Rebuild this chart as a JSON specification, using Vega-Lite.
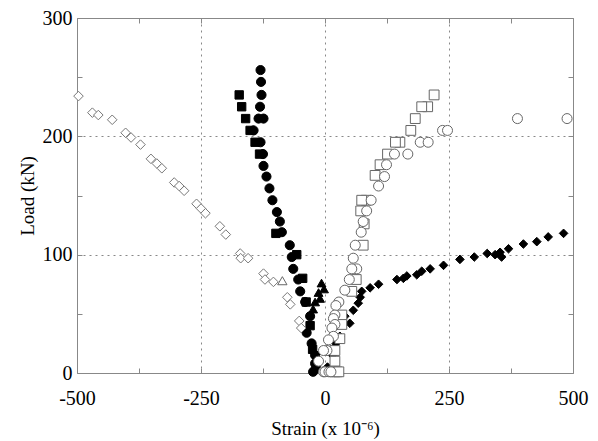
{
  "$schema": "https://vega.github.io/schema/vega-lite/v6.json",
  "width": 496,
  "height": 355,
  "autosize": "none",
  "padding": {"left": 77, "top": 18, "right": 25, "bottom": 68},
  "background": "white",
  "config": {
    "view": {"stroke": "#888888", "strokeWidth": 1},
    "font": "Liberation Serif"
  },
  "data": {"values": [
    {"s": "fs", "x": -173, "y": 235}, {"s": "fs", "x": -168, "y": 225}, {"s": "fs", "x": -160, "y": 215}, {"s": "fs", "x": -151, "y": 205}, {"s": "fs", "x": -141, "y": 195}, {"s": "fs", "x": -132, "y": 185}, {"s": "fs", "x": -99, "y": 118}, {"s": "fs", "x": -57, "y": 100}, {"s": "fs", "x": -45, "y": 80}, {"s": "fs", "x": -38, "y": 60}, {"s": "fs", "x": -30, "y": 40}, {"s": "fs", "x": -25, "y": 20}, {"s": "fs", "x": -18, "y": 5},
    {"s": "fd", "x": 481, "y": 118}, {"s": "fd", "x": 450, "y": 115}, {"s": "fd", "x": 427, "y": 111}, {"s": "fd", "x": 400, "y": 109}, {"s": "fd", "x": 370, "y": 105}, {"s": "fd", "x": 353, "y": 102}, {"s": "fd", "x": 356, "y": 98}, {"s": "fd", "x": 343, "y": 100}, {"s": "fd", "x": 327, "y": 101}, {"s": "fd", "x": 301, "y": 98}, {"s": "fd", "x": 272, "y": 96}, {"s": "fd", "x": 239, "y": 91}, {"s": "fd", "x": 212, "y": 88}, {"s": "fd", "x": 195, "y": 86}, {"s": "fd", "x": 185, "y": 83}, {"s": "fd", "x": 165, "y": 82}, {"s": "fd", "x": 158, "y": 80}, {"s": "fd", "x": 145, "y": 79}, {"s": "fd", "x": 108, "y": 75}, {"s": "fd", "x": 91, "y": 72}, {"s": "fd", "x": 74, "y": 69}, {"s": "fd", "x": 71, "y": 64}, {"s": "fd", "x": 67, "y": 59}, {"s": "fd", "x": 57, "y": 53}, {"s": "fd", "x": 50, "y": 42}, {"s": "fd", "x": 40, "y": 48}, {"s": "fd", "x": 37, "y": 41}, {"s": "fd", "x": 30, "y": 31}, {"s": "fd", "x": 22, "y": 25}, {"s": "fd", "x": 15, "y": 15}, {"s": "fd", "x": 5, "y": 5},
    {"s": "ft", "x": -7, "y": 76}, {"s": "ft", "x": -2, "y": 71}, {"s": "ft", "x": -13, "y": 68}, {"s": "ft", "x": -10, "y": 63}, {"s": "ft", "x": -20, "y": 60}, {"s": "ft", "x": -24, "y": 54},
    {"s": "fc", "x": -130, "y": 256}, {"s": "fc", "x": -129, "y": 246}, {"s": "fc", "x": -128, "y": 235}, {"s": "fc", "x": -131, "y": 225}, {"s": "fc", "x": -134, "y": 215}, {"s": "fc", "x": -124, "y": 215}, {"s": "fc", "x": -144, "y": 205}, {"s": "fc", "x": -130, "y": 195}, {"s": "fc", "x": -125, "y": 185}, {"s": "fc", "x": -124, "y": 175}, {"s": "fc", "x": -118, "y": 166}, {"s": "fc", "x": -112, "y": 156}, {"s": "fc", "x": -106, "y": 146}, {"s": "fc", "x": -97, "y": 136}, {"s": "fc", "x": -91, "y": 128}, {"s": "fc", "x": -87, "y": 119}, {"s": "fc", "x": -71, "y": 108}, {"s": "fc", "x": -67, "y": 98}, {"s": "fc", "x": -64, "y": 88}, {"s": "fc", "x": -54, "y": 79}, {"s": "fc", "x": -50, "y": 69}, {"s": "fc", "x": -40, "y": 60}, {"s": "fc", "x": -30, "y": 48}, {"s": "fc", "x": -37, "y": 34}, {"s": "fc", "x": -27, "y": 25}, {"s": "fc", "x": -20, "y": 15}, {"s": "fc", "x": -20, "y": 8}, {"s": "fc", "x": -24, "y": 1},
    {"s": "ot", "x": -86, "y": 78},
    {"s": "od", "x": -497, "y": 234}, {"s": "od", "x": -469, "y": 220}, {"s": "od", "x": -457, "y": 218}, {"s": "od", "x": -429, "y": 214}, {"s": "od", "x": -402, "y": 203}, {"s": "od", "x": -391, "y": 199}, {"s": "od", "x": -372, "y": 193}, {"s": "od", "x": -351, "y": 181}, {"s": "od", "x": -339, "y": 177}, {"s": "od", "x": -329, "y": 173}, {"s": "od", "x": -304, "y": 161}, {"s": "od", "x": -294, "y": 158}, {"s": "od", "x": -284, "y": 154}, {"s": "od", "x": -259, "y": 143}, {"s": "od", "x": -250, "y": 139}, {"s": "od", "x": -241, "y": 135}, {"s": "od", "x": -212, "y": 124}, {"s": "od", "x": -200, "y": 117}, {"s": "od", "x": -171, "y": 101}, {"s": "od", "x": -170, "y": 97}, {"s": "od", "x": -155, "y": 97}, {"s": "od", "x": -124, "y": 84}, {"s": "od", "x": -121, "y": 79}, {"s": "od", "x": -104, "y": 77}, {"s": "od", "x": -76, "y": 64}, {"s": "od", "x": -70, "y": 58}, {"s": "od", "x": -52, "y": 44}, {"s": "od", "x": -48, "y": 38},
    {"s": "os", "x": 220, "y": 235}, {"s": "os", "x": 207, "y": 225}, {"s": "os", "x": 195, "y": 225}, {"s": "os", "x": 182, "y": 215}, {"s": "os", "x": 173, "y": 205}, {"s": "os", "x": 151, "y": 195}, {"s": "os", "x": 142, "y": 195}, {"s": "os", "x": 126, "y": 185}, {"s": "os", "x": 111, "y": 176}, {"s": "os", "x": 101, "y": 167}, {"s": "os", "x": 83, "y": 146}, {"s": "os", "x": 74, "y": 146}, {"s": "os", "x": 72, "y": 137}, {"s": "os", "x": 79, "y": 126}, {"s": "os", "x": 77, "y": 108}, {"s": "os", "x": 63, "y": 79}, {"s": "os", "x": 54, "y": 69}, {"s": "os", "x": 34, "y": 49}, {"s": "os", "x": 34, "y": 41}, {"s": "os", "x": 30, "y": 29}, {"s": "os", "x": 20, "y": 19}, {"s": "os", "x": 20, "y": 10}, {"s": "os", "x": 20, "y": 1}, {"s": "os", "x": 24, "y": 1}, {"s": "os", "x": 28, "y": 1},
    {"s": "oc", "x": 488, "y": 215}, {"s": "oc", "x": 388, "y": 215}, {"s": "oc", "x": 237, "y": 205}, {"s": "oc", "x": 247, "y": 205}, {"s": "oc", "x": 192, "y": 195}, {"s": "oc", "x": 208, "y": 195}, {"s": "oc", "x": 167, "y": 185}, {"s": "oc", "x": 140, "y": 185}, {"s": "oc", "x": 124, "y": 176}, {"s": "oc", "x": 120, "y": 166}, {"s": "oc", "x": 108, "y": 158}, {"s": "oc", "x": 93, "y": 146}, {"s": "oc", "x": 84, "y": 137}, {"s": "oc", "x": 77, "y": 128}, {"s": "oc", "x": 73, "y": 119}, {"s": "oc", "x": 61, "y": 108}, {"s": "oc", "x": 57, "y": 97}, {"s": "oc", "x": 64, "y": 88}, {"s": "oc", "x": 54, "y": 88}, {"s": "oc", "x": 49, "y": 79}, {"s": "oc", "x": 40, "y": 70}, {"s": "oc", "x": 28, "y": 60}, {"s": "oc", "x": 22, "y": 57}, {"s": "oc", "x": 20, "y": 49}, {"s": "oc", "x": 17, "y": 46}, {"s": "oc", "x": 20, "y": 41}, {"s": "oc", "x": 14, "y": 38}, {"s": "oc", "x": 17, "y": 31}, {"s": "oc", "x": 7, "y": 28}, {"s": "oc", "x": 4, "y": 19}, {"s": "oc", "x": -3, "y": 19}, {"s": "oc", "x": -13, "y": 10}, {"s": "oc", "x": -3, "y": 1}, {"s": "oc", "x": 0, "y": 1}, {"s": "oc", "x": 8, "y": 1}, {"s": "oc", "x": 12, "y": 1}
  ]},
  "layer": [
    {
      "mark": {"type": "point", "filled": true, "opacity": 1, "strokeWidth": 1},
      "encoding": {
        "x": {"field": "x", "type": "quantitative",
          "scale": {"domain": [-500, 500], "nice": false, "zero": false},
          "axis": {"orient": "bottom", "title": "Strain (x 10⁻⁶)", "values": [-500, -375, -250, -125, 0, 125, 250, 375, 500],
            "labelExpr": "datum.value % 250 === 0 ? '' + datum.value : ''",
            "labelFont": "Liberation Serif", "titleFont": "Liberation Serif", "labelFontSize": 20, "titleFontSize": 19, "labelColor": "black", "titleColor": "black", "titleFontWeight": "normal", "labelFontWeight": "normal",
            "tickSize": -5, "tickColor": "#888888", "labelPadding": 20, "domain": false,
            "grid": true, "gridColor": "#888888", "gridDash": [2, 4], "gridWidth": 1,
            "gridOpacity": {"condition": {"test": "datum.value % 250 === 0 && datum.value > -500 && datum.value < 500", "value": 1}, "value": 0},
            "titleY": 61, "titleBaseline": "alphabetic", "labelFlush": false, "labelOverlap": false}},
        "y": {"field": "y", "type": "quantitative",
          "scale": {"domain": [0, 300], "nice": false, "zero": false},
          "axis": {"orient": "left", "title": "Load (kN)", "values": [0, 50, 100, 150, 200, 250, 300],
            "labelExpr": "datum.value % 100 === 0 ? '' + datum.value : ''",
            "labelFont": "Liberation Serif", "titleFont": "Liberation Serif", "labelFontSize": 20, "titleFontSize": 19, "labelColor": "black", "titleColor": "black", "titleFontWeight": "normal", "labelFontWeight": "normal",
            "tickSize": -5, "tickColor": "#888888", "labelPadding": 10, "domain": false,
            "grid": true, "gridColor": "#888888", "gridDash": [2, 4], "gridWidth": 1,
            "gridOpacity": {"condition": {"test": "datum.value % 100 === 0 && datum.value > 0 && datum.value < 300", "value": 1}, "value": 0},
            "titleX": -44, "titleBaseline": "alphabetic", "labelFlush": false, "labelOverlap": false}},
        "shape": {"field": "s", "type": "nominal", "legend": null,
          "scale": {"domain": ["fs", "fd", "ft", "fc", "ot", "od", "os", "oc"], "range": ["square", "diamond", "triangle-up", "circle", "triangle-up", "diamond", "square", "circle"]}},
        "fill": {"field": "s", "type": "nominal", "legend": null,
          "scale": {"domain": ["fs", "fd", "ft", "fc", "ot", "od", "os", "oc"], "range": ["black", "black", "black", "black", "white", "white", "white", "white"]}},
        "stroke": {"field": "s", "type": "nominal", "legend": null,
          "scale": {"domain": ["fs", "fd", "ft", "fc", "ot", "od", "os", "oc"], "range": ["black", "black", "black", "black", "#666666", "#777777", "#666666", "#666666"]}},
        "size": {"field": "s", "type": "nominal", "legend": null,
          "scale": {"domain": ["fs", "fd", "ft", "fc", "ot", "od", "os", "oc"], "range": [70, 100, 110, 165, 100, 120, 55, 165]}}
      }
    },
    {
      "mark": {"type": "point", "opacity": 0},
      "encoding": {
        "x": {"field": "x", "type": "quantitative",
          "axis": {"orient": "top", "title": null, "labels": false, "values": [-500, -375, -250, -125, 0, 125, 250, 375, 500], "tickSize": -5, "tickColor": "#888888", "domain": false, "grid": false}},
        "y": {"field": "y", "type": "quantitative",
          "axis": {"orient": "right", "title": null, "labels": false, "values": [0, 50, 100, 150, 200, 250, 300], "tickSize": -5, "tickColor": "#888888", "domain": false, "grid": false}}
      }
    }
  ],
  "resolve": {"axis": {"x": "independent", "y": "independent"}}
}
